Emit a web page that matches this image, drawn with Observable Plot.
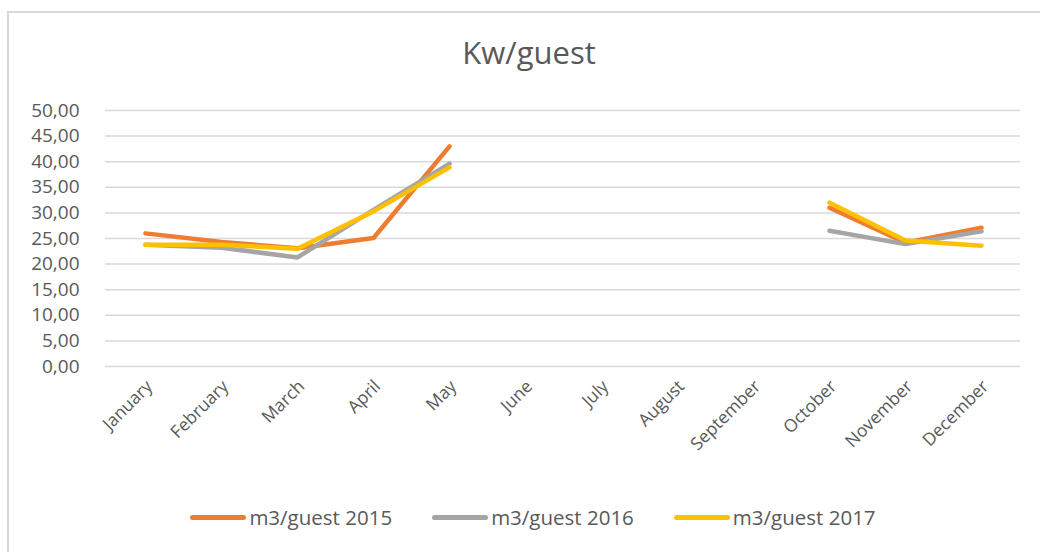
<!DOCTYPE html>
<html>
<head>
<meta charset="utf-8">
<script src="https://cdn.jsdelivr.net/npm/d3@7"></script>
<script src="https://cdn.jsdelivr.net/npm/@observablehq/plot@0.6"></script>
<style>
  html, body { margin: 0; padding: 0; background: #fff; }
  #wrap { position: relative; width: 1040px; height: 552px; overflow: hidden; font-family: "Open Sans", sans-serif; }
  #frame { position: absolute; left: 7px; top: 11px; width: 1060px; height: 580px; border: 2px solid #d9d9d9; box-sizing: border-box; }
  #title { position: absolute; left: 0; top: 31px; width: 1058px; text-align: center; font-size: 31px; color: #595959; }
  #chart { position: absolute; left: 0; top: 0; }
  #legend { position: absolute; left: 0; top: 503px; width: 1066px; display: flex; justify-content: center; gap: 40px; font-size: 20.5px; color: #595959; }
  .item { display: flex; align-items: center; }
  .sw { display: inline-block; width: 56px; height: 5px; border-radius: 3px; margin-right: 3px; }
</style>
</head>
<body>
<div id="wrap">
  <div id="frame"></div>
  <div id="title">Kw/guest</div>
  <div id="chart"></div>
  <div id="legend"></div>
</div>
<script>
const months = ["January","February","March","April","May","June","July","August","September","October","November","December"];
const seriesNames = ["m3/guest 2015","m3/guest 2016","m3/guest 2017"];
const colors = ["#ED7D31","#A5A5A5","#FFC000"];
const v2015 = [26.0, 24.3, 23.1, 25.1, 43.0, null, null, null, null, 31.0, 24.2, 27.1];
const v2016 = [23.8, 23.2, 21.3, 30.6, 39.6, null, null, null, null, 26.5, 23.9, 26.4];
const v2017 = [23.8, 23.8, 23.0, 30.3, 38.9, null, null, null, null, 32.0, 24.6, 23.6];
const yTicks = [0,5,10,15,20,25,30,35,40,45,50];

const allValues = [v2015, v2016, v2017];
const data = [];
allValues.forEach((vals, si) => {
  vals.forEach((v, i) => data.push({series: seriesNames[si], month: months[i], value: v}));
});

const fmt = d => d.toFixed(2).replace(".", ",");

const chart = Plot.plot({
  width: 1040,
  height: 480,
  marginLeft: 105,
  marginRight: 20,
  marginTop: 110,
  marginBottom: 114,
  style: { fontFamily: "Open Sans, sans-serif", fontSize: "18px", color: "#595959", background: "transparent" },
  x: { type: "point", domain: months, padding: 0.5, label: null },
  y: { domain: [0, 50], label: null },
  color: { domain: seriesNames, range: colors },
  marks: [
    Plot.ruleY(yTicks, { stroke: "#d9d9d9", strokeWidth: 1.5 }),
    Plot.axisY({ ticks: yTicks, tickFormat: fmt, tickSize: 0, tickPadding: 26, fontSize: 19, label: null }),
    Plot.axisX({ tickSize: 0, tickRotate: -45, tickPadding: 17, fontSize: 17.5, dx: 4, label: null }),
    Plot.line(data, { x: "month", y: "value", z: "series", stroke: "series", strokeWidth: 4.5, strokeLinecap: "round", strokeLinejoin: "round" })
  ]
});
document.getElementById("chart").appendChild(chart);

const legend = document.getElementById("legend");
seriesNames.forEach((name, i) => {
  const item = document.createElement("div");
  item.className = "item";
  const sw = document.createElement("span");
  sw.className = "sw";
  sw.style.background = colors[i];
  const t = document.createElement("span");
  t.textContent = name;
  item.appendChild(sw);
  item.appendChild(t);
  legend.appendChild(item);
});
</script>
</body>
</html>
